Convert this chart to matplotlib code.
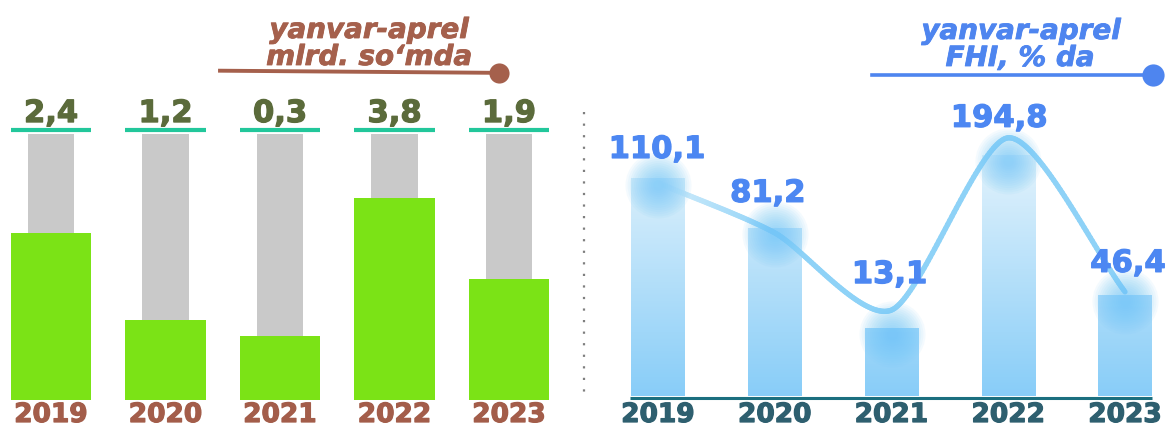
import numpy as np
import matplotlib
matplotlib.use("Agg")
import matplotlib.pyplot as plt
import matplotlib.patheffects as pe
from matplotlib.collections import LineCollection
from matplotlib.colors import to_rgb
from matplotlib.lines import Line2D

plt.rcParams['font.family'] = ['DejaVu Sans']

# ---------------- data ----------------
years = ['2019', '2020', '2021', '2022', '2023']
investment_mlrd = [2.4, 1.2, 0.3, 3.8, 1.9]          # yanvar-aprel, mlrd. so'mda
investment_bar_level = [0.628, 0.30, 0.24, 0.76, 0.455]  # drawn fill level (share of track)
track_level = [1.0, 1.0, 1.0, 1.0, 1.0]
fhi_percent = [110.1, 81.2, 13.1, 194.8, 46.4]        # yanvar-aprel, FHI % da
fhi_bar_level = [0.55, 0.424, 0.172, 0.609, 0.255]
fhi_line_level = [0.538, 0.412, 0.217, 0.652, 0.263]

# layout (pixels)
W, H = 1167, 428
right_label_offsets_px = [(-1, 25), (-7, 31), (-2, 27), (-9, 11), (3, 20)]


def fmt(v):
    return f"{v:.1f}".replace('.', ',')


def heavy(color, w=0.9):
    return [pe.withStroke(linewidth=w, foreground=color)]


fig = plt.figure(figsize=(W / 100, H / 100), dpi=100)


def fx(px):
    return px / W


def fy(py):
    return 1 - py / H


# ---------------- left panel ----------------
ux1, uy1 = 114.5, 266.0
ax1 = fig.add_axes([0, 0, 566 / W, 1])
ax1.set_xlim(-51 / ux1, (566 - 51) / ux1)
ax1.set_ylim(-28 / uy1, 400 / uy1)
ax1.axis('off')
x = np.arange(len(years))
ax1.bar(x, track_level, width=0.41, color='#c9c9c9', zorder=1)
ax1.bar(x, investment_bar_level, width=0.70, color='#7be316', zorder=2)
ax1.hlines(np.full(len(x), 1.015), x - 0.35, x + 0.35, color='#22c79b', lw=3.0, zorder=3)
for xi, v in zip(x, investment_mlrd):
    ax1.text(xi, 1.045, fmt(v), ha='center', va='baseline', fontsize=22,
             fontweight='bold', color='#5b6b3b', path_effects=heavy('#5b6b3b'))
for xi, yr in zip(x, years):
    ax1.text(xi, -22 / uy1, yr, ha='center', va='baseline', fontsize=19,
             fontweight='bold', color='#a35d4a', clip_on=False,
             path_effects=heavy('#a35d4a'))

# title left
tl = '#a5604c'
fig.text(fx(369), fy(38), 'yanvar-aprel', ha='center', va='baseline',
         fontsize=20, fontweight='bold', style='italic', color=tl, path_effects=heavy(tl, 0.6))
fig.text(fx(369), fy(65), 'mlrd. so\u2018mda', ha='center', va='baseline',
         fontsize=20, fontweight='bold', style='italic', color=tl, path_effects=heavy(tl, 0.6))
fig.add_artist(Line2D([fx(220), fx(492)], [fy(70.7), fy(72.8)], color=tl, lw=2.8))
fig.add_artist(Line2D([fx(499)], [fy(73)], marker='o', markersize=14.5,
                      color=tl, markeredgewidth=0))

# separator
fig.add_artist(Line2D([fx(584), fx(584)], [fy(112), fy(400)], color='#7f7f7f',
                      lw=1.6, linestyle=(0, (1, 4.2))))

# ---------------- right panel ----------------
ux2, uy2 = 116.75, 396.0
ax2 = fig.add_axes([590 / W, 0, (W - 590) / W, 1])
xl = ((590 - 658) / ux2, (W - 658) / ux2)
yl = (-32 / uy2, 1.0)
ax2.axis('off')

bars = ax2.bar(x, fhi_bar_level, width=0.454, color='none', edgecolor='none', zorder=2)
top_c = np.array(to_rgb('#e8f5fc'))
bot_c = np.array(to_rgb('#88cdf8'))
gt = np.linspace(0, 1, 256)[:, None]
grad = bot_c[None, None, :] * (1 - gt[..., None]) + top_c[None, None, :] * gt[..., None]
for patch in bars.patches:
    im = ax2.imshow(grad, extent=[xl[0], xl[1], 0, 0.64], origin='lower',
                    aspect='auto', zorder=2, interpolation='bilinear')
    im.set_clip_path(patch)

# baseline
ax2.plot([-0.24, 4.23], [-0.005, -0.005], color='#1b6f7f', lw=2.2,
         solid_capstyle='butt', zorder=3)

# smooth line (Catmull-Rom in pixel space)
P = np.column_stack([x * ux2, np.array(fhi_line_level) * uy2])
Pp = np.vstack([P[0] - (P[1] - P[0]), P, P[-1] + (P[-1] - P[-2])])
tension = 0.75
pts = []
for i in range(1, len(Pp) - 2):
    p0, p1, p2, p3 = Pp[i - 1], Pp[i], Pp[i + 1], Pp[i + 2]
    m1 = tension * (p2 - p0) / 2
    m2 = tension * (p3 - p1) / 2
    for t in np.linspace(0, 1, 60, endpoint=False):
        h00 = 2 * t**3 - 3 * t**2 + 1
        h10 = t**3 - 2 * t**2 + t
        h01 = -2 * t**3 + 3 * t**2
        h11 = t**3 - t**2
        pts.append(h00 * p1 + h10 * m1 + h01 * p2 + h11 * m2)
pts.append(P[-1])
pts = np.array(pts)
pts[:, 0] /= ux2
pts[:, 1] /= uy2
segs = np.stack([pts[:-1], pts[1:]], axis=1)
pale = np.array(to_rgb('#d6eefb'))
full = np.array(to_rgb('#8ed2f7'))
tpos = np.clip(segs[:, 0, 0] / 1.0, 0, 1)
cols = pale[None, :] * (1 - tpos[:, None]) + full[None, :] * tpos[:, None]
lc = LineCollection(segs, colors=cols, linewidths=3.8, capstyle='round', zorder=4)
ax2.add_collection(lc)

# glows
glow_c = '#6ec6f8'
for xi, lv in zip(x, fhi_bar_level):
    n = 14
    for k in range(n):
        r = 30 * (1 - k / n) + 3
        ax2.scatter([xi], [lv - 0.016], s=(2 * r * 0.72) ** 2, color=glow_c,
                    alpha=0.075, lw=0, zorder=5)

# value labels
vc = '#4c87f2'
for xi, lv, v, (dx, dy) in zip(x, fhi_line_level, fhi_percent, right_label_offsets_px):
    ax2.annotate(fmt(v), (xi, lv), xytext=(dx * 0.72, dy * 0.72),
                 textcoords='offset points', ha='center', va='baseline',
                 fontsize=22, fontweight='bold', color=vc, zorder=6,
                 path_effects=heavy(vc))
yc = '#2e5f6f'
for xi, yr in zip(x, years):
    ax2.text(xi, -26 / uy2, yr, ha='center', va='baseline', fontsize=19,
             fontweight='bold', color=yc, clip_on=False, path_effects=heavy(yc))

ax2.set_xlim(*xl)
ax2.set_ylim(*yl)

# title right
tc = '#4e85ef'
fig.text(fx(1021), fy(39), 'yanvar-aprel', ha='center', va='baseline',
         fontsize=20, fontweight='bold', style='italic', color=tc, path_effects=heavy(tc, 0.6))
fig.text(fx(1020), fy(66), 'FHI, % da', ha='center', va='baseline',
         fontsize=20, fontweight='bold', style='italic', color=tc, path_effects=heavy(tc, 0.6))
fig.add_artist(Line2D([fx(872), fx(1148)], [fy(75), fy(75)], color=tc, lw=2.6))
fig.add_artist(Line2D([fx(1153)], [fy(75)], marker='o', markersize=16,
                      color=tc, markeredgewidth=0))

fig.savefig('out.png', dpi=100)
